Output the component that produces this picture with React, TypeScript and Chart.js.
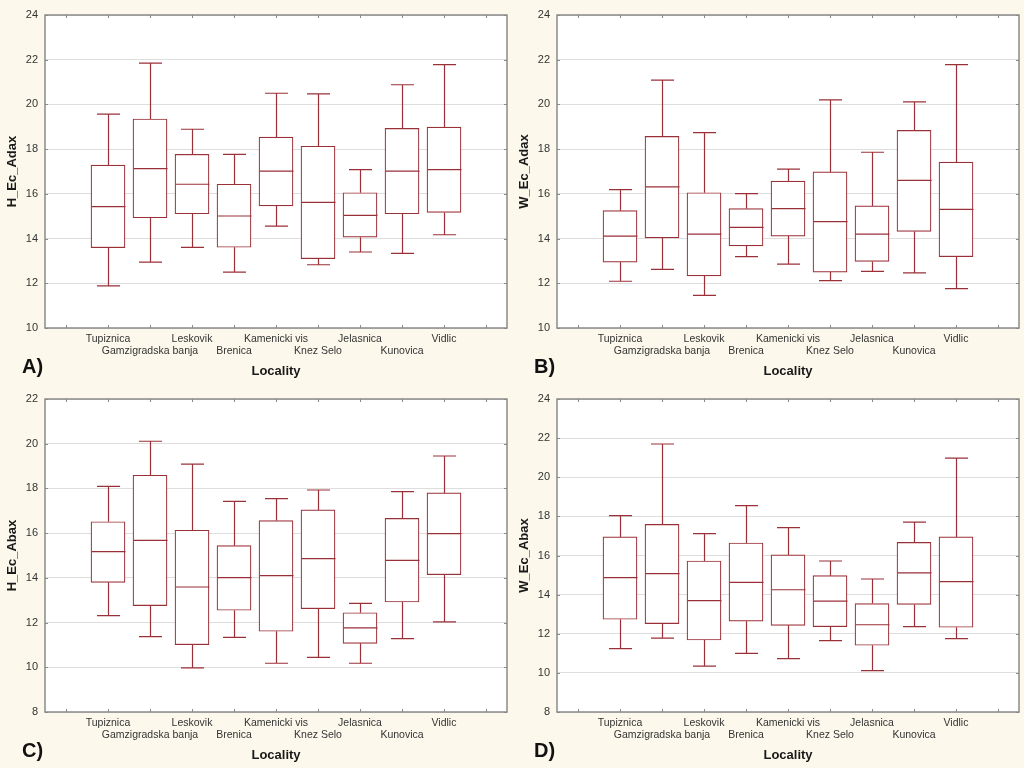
import React, { useEffect, useRef } from 'react';
import { Chart, registerables } from 'chart.js';

Chart.register(...registerables);

const localities = ['Tupiznica', 'Gamzigradska banja', 'Leskovik', 'Brenica', 'Kamenicki vis', 'Knez Selo', 'Jelasnica', 'Kunovica', 'Vidlic'];
const categories = ['', ...localities, ''];
const xTitle = 'Locality';

// Panel A: H_Ec_Adax
const aMin = [11.88, 12.95, 13.61, 12.5, 14.56, 12.83, 13.4, 13.34, 14.17];
const aQ1 = [13.59, 14.93, 15.11, 13.61, 15.46, 13.1, 14.06, 15.11, 15.17];
const aMed = [15.43, 17.13, 16.43, 15.01, 17.02, 15.62, 15.04, 17.02, 17.08];
const aQ3 = [17.29, 19.35, 17.77, 16.43, 18.54, 18.13, 16.05, 18.93, 18.99];
const aMax = [19.57, 21.85, 18.89, 17.77, 20.5, 20.47, 17.08, 20.88, 21.78];

// Panel B: W_Ec_Adax
const bMin = [12.09, 12.62, 11.46, 13.19, 12.86, 12.12, 12.53, 12.47, 11.76];
const bQ1 = [12.95, 14.03, 12.33, 13.67, 14.11, 12.5, 12.98, 14.32, 13.19];
const bMed = [14.11, 16.31, 14.2, 14.5, 15.34, 14.76, 14.2, 16.6, 15.31];
const bQ3 = [15.25, 18.57, 16.05, 15.34, 16.57, 16.98, 15.46, 18.84, 17.42];
const bMax = [16.19, 21.09, 18.74, 16.01, 17.11, 20.2, 17.86, 20.11, 21.78];

// Panel C: H_Ec_Abax
const cMin = [12.31, 11.37, 9.97, 11.34, 10.18, 10.44, 10.18, 11.28, 12.03];
const cQ1 = [13.8, 12.76, 11.01, 12.55, 11.61, 12.62, 11.07, 12.92, 14.14];
const cMed = [15.17, 15.68, 13.59, 14.01, 14.1, 14.86, 11.76, 14.78, 15.98];
const cQ3 = [16.51, 18.59, 16.13, 15.44, 16.56, 17.04, 12.44, 16.66, 17.8];
const cMax = [18.09, 20.11, 19.09, 17.42, 17.54, 17.93, 12.86, 17.86, 19.45];

// Panel D: W_Ec_Abax
const dMin = [11.24, 11.78, 10.35, 11.0, 10.73, 11.65, 10.11, 12.36, 11.75];
const dQ1 = [12.74, 12.52, 11.68, 12.64, 12.43, 12.36, 11.41, 13.5, 12.33];
const dMed = [14.87, 15.07, 13.69, 14.63, 14.25, 13.67, 12.46, 15.11, 14.66];
const dQ3 = [16.95, 17.59, 15.72, 16.64, 16.03, 14.97, 13.54, 16.67, 16.95];
const dMax = [18.04, 21.7, 17.12, 18.55, 17.42, 15.72, 14.8, 17.71, 20.98];

const panels = [
  { letter: 'A)', yTitle: 'H_Ec_Adax', yMin: 10, yMax: 24, min: aMin, q1: aQ1, med: aMed, q3: aQ3, max: aMax },
  { letter: 'B)', yTitle: 'W_Ec_Adax', yMin: 10, yMax: 24, min: bMin, q1: bQ1, med: bMed, q3: bQ3, max: bMax },
  { letter: 'C)', yTitle: 'H_Ec_Abax', yMin: 8, yMax: 22, min: cMin, q1: cQ1, med: cMed, q3: cQ3, max: cMax },
  { letter: 'D)', yTitle: 'W_Ec_Abax', yMin: 8, yMax: 24, min: dMin, q1: dQ1, med: dMed, q3: dQ3, max: dMax },
];

const BOX_COLOR = '#9a3038';
const FRAME_COLOR = '#8a8a8a';
const BG = '#fcf9ec';
const FONT = "'Liberation Sans', Arial, sans-serif";

const pad = (arr: number[]) => [null, ...arr, null];

const boxPlugin = {
  id: 'boxplot',
  beforeDraw(chart: any) {
    const { ctx, chartArea: a } = chart;
    ctx.save();
    ctx.fillStyle = '#ffffff';
    ctx.fillRect(a.left, a.top, a.right - a.left, a.bottom - a.top);
    ctx.restore();
  },
  afterDatasetsDraw(chart: any, _args: any, opts: any) {
    const { ctx } = chart;
    const xs = chart.scales.x;
    const ys = chart.scales.y;
    ctx.save();
    ctx.strokeStyle = BOX_COLOR;
    ctx.lineWidth = 1.2;
    const cap = 23;
    const half = 17;
    opts.min.forEach((mn: number | null, i: number) => {
      if (mn == null) return;
      const x = Math.round(xs.getPixelForValue(i)) + 0.5;
      const yMin = ys.getPixelForValue(mn);
      const yQ1 = ys.getPixelForValue(opts.q1[i]);
      const yMed = ys.getPixelForValue(opts.med[i]);
      const yQ3 = ys.getPixelForValue(opts.q3[i]);
      const yMax = ys.getPixelForValue(opts.max[i]);
      ctx.beginPath();
      ctx.moveTo(x, yQ3); ctx.lineTo(x, yMax);
      ctx.moveTo(x - cap / 2, yMax); ctx.lineTo(x + cap / 2, yMax);
      ctx.moveTo(x, yQ1); ctx.lineTo(x, yMin);
      ctx.moveTo(x - cap / 2, yMin); ctx.lineTo(x + cap / 2, yMin);
      ctx.moveTo(x - half, yMed); ctx.lineTo(x + half, yMed);
      ctx.stroke();
    });
    ctx.restore();
  },
  afterDraw(chart: any) {
    const { ctx, chartArea: a } = chart;
    const xs = chart.scales.x;
    const ys = chart.scales.y;
    ctx.save();
    ctx.strokeStyle = FRAME_COLOR;
    ctx.lineWidth = 1.5;
    ctx.strokeRect(a.left, a.top, a.right - a.left, a.bottom - a.top);
    ctx.lineWidth = 1;
    ctx.beginPath();
    xs.ticks.forEach((_t: any, i: number) => {
      const x = Math.round(xs.getPixelForTick(i)) + 0.5;
      ctx.moveTo(x, a.bottom); ctx.lineTo(x, a.bottom - 3);
      ctx.moveTo(x, a.top); ctx.lineTo(x, a.top + 3);
    });
    ys.ticks.forEach((_t: any, i: number) => {
      const y = Math.round(ys.getPixelForTick(i)) + 0.5;
      ctx.moveTo(a.left, y); ctx.lineTo(a.left + 3, y);
      ctx.moveTo(a.right, y); ctx.lineTo(a.right - 3, y);
    });
    ctx.stroke();
    ctx.restore();
  },
};

function Panel({ p, left, top }: { p: typeof panels[number]; left: number; top: number }) {
  const ref = useRef<HTMLCanvasElement | null>(null);
  useEffect(() => {
    if (!ref.current) return;
    const boxes = [null, ...p.q1.map((q, i) => [q, p.q3[i]]), null];
    const chart = new Chart(ref.current, {
      type: 'bar',
      data: {
        labels: categories,
        datasets: [
          {
            data: boxes as any,
            backgroundColor: '#ffffff',
            borderColor: BOX_COLOR,
            borderWidth: 1.2,
            borderSkipped: false,
            barThickness: 34,
          },
        ],
      },
      plugins: [boxPlugin],
      options: {
        responsive: false,
        animation: false,
        devicePixelRatio: 1,
        layout: { padding: { top: 15, right: 5, left: 0, bottom: 0 } },
        plugins: {
          legend: { display: false },
          tooltip: { enabled: false },
          boxplot: { min: pad(p.min), q1: pad(p.q1), med: pad(p.med), q3: pad(p.q3), max: pad(p.max) },
        } as any,
        scales: {
          x: {
            type: 'category',
            offset: true,
            grid: { display: false, drawTicks: false },
            border: { display: false },
            afterFit: (s: any) => { s.height = 56; },
            ticks: {
              autoSkip: false,
              maxRotation: 0,
              minRotation: 0,
              padding: 5,
              color: '#333333',
              font: { family: FONT, size: 10.5, lineHeight: '12px' } as any,
              callback: function (this: any, value: any, index: number) {
                const name = categories[index];
                if (!name) return '';
                return index % 2 === 1 ? [name, ''] : ['', name];
              },
            },
            title: {
              display: true,
              text: xTitle,
              color: '#1a1a1a',
              font: { family: FONT, size: 13, weight: 'bold' },
              padding: { top: 0, bottom: 5 },
            },
          },
          y: {
            min: p.yMin,
            max: p.yMax,
            grid: { color: '#dedede', lineWidth: 1, drawTicks: false },
            border: { display: false },
            afterFit: (s: any) => { s.width = 45; },
            ticks: {
              stepSize: 2,
              padding: 7,
              color: '#333333',
              font: { family: FONT, size: 11 },
            },
            title: {
              display: true,
              text: p.yTitle,
              color: '#1a1a1a',
              font: { family: FONT, size: 13, weight: 'bold' },
              padding: { top: 5, bottom: 0 },
            },
          },
        },
      },
    });
    return () => chart.destroy();
  }, [p]);
  return (
    <div style={{ position: 'absolute', left, top, width: 512, height: 384 }}>
      <canvas ref={ref} width={512} height={384} style={{ display: 'block', width: 512, height: 384 }} />
      <div
        style={{
          position: 'absolute',
          left: 22,
          top: 355,
          fontFamily: FONT,
          fontWeight: 'bold',
          fontSize: 20,
          lineHeight: '22px',
          color: '#111111',
        }}
      >
        {p.letter}
      </div>
    </div>
  );
}

export default function App() {
  useEffect(() => {
    document.body.style.background = BG;
    document.body.style.margin = '0';
  }, []);
  return (
    <div style={{ position: 'absolute', left: 0, top: 0, width: 1024, height: 768, background: BG, overflow: 'hidden' }}>
      <Panel p={panels[0]} left={0} top={0} />
      <Panel p={panels[1]} left={512} top={0} />
      <Panel p={panels[2]} left={0} top={384} />
      <Panel p={panels[3]} left={512} top={384} />
    </div>
  );
}
